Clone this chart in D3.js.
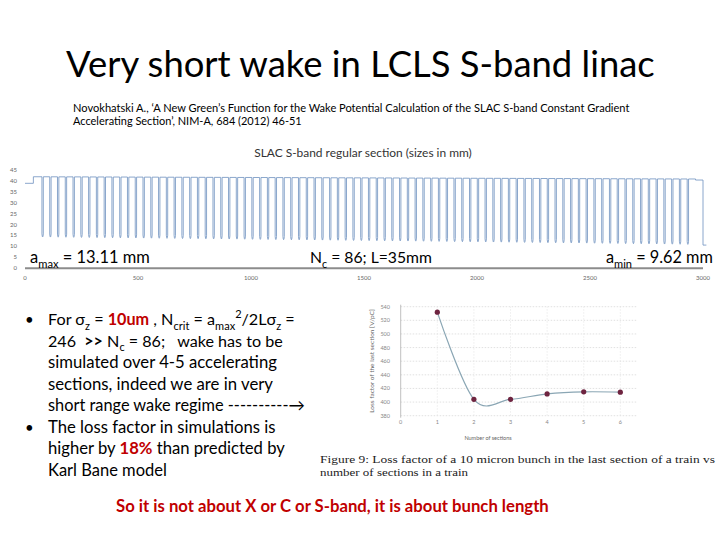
<!DOCTYPE html>
<html>
<head>
<meta charset="utf-8">
<script src="https://cdn.jsdelivr.net/npm/d3@7"></script>
<style>
  body { margin: 0; background: #fff; }
  text { font-family: Lato, "Open Sans", sans-serif; white-space: pre; }
  text.serif { font-family: "Liberation Serif", "DejaVu Serif", serif; }
</style>
</head>
<body>
<div id="slide"></div>
<script>
// ---- data ----
// top chart: iris radius (dips) and cavity radius (flat tops), mm
const irisRadius = [
  14.30, 14.27, 14.22, 14.19, 14.15, 14.11, 14.08, 14.03, 14.00, 13.96,
  13.92, 13.88, 13.85, 13.80, 13.77, 13.73, 13.69, 13.65, 13.61, 13.57,
  13.53, 13.49, 13.45, 13.41, 13.37, 13.33, 13.29, 13.25, 13.21, 13.17,
  13.13, 13.09, 13.05, 13.01, 12.97, 12.93, 12.89, 12.85, 12.81, 12.77,
  12.73, 12.69, 12.65, 12.61, 12.57, 12.53, 12.49, 12.45, 12.41, 12.37,
  12.33, 12.29, 12.25, 12.20, 12.16, 12.12, 12.08, 12.04, 12.00, 11.96,
  11.92, 11.88, 11.84, 11.80, 11.76, 11.71, 11.67, 11.63, 11.59, 11.55,
  11.51, 11.46, 11.42, 11.38, 11.34, 11.29, 11.25, 11.21, 11.17, 11.12,
  11.08, 11.03, 10.98, 10.93
]
const cavityRadius = [
  41.80, 41.79, 41.78, 41.76, 41.75, 41.74, 41.73, 41.71, 41.70, 41.69,
  41.68, 41.67, 41.65, 41.64, 41.63, 41.62, 41.60, 41.59, 41.58, 41.57,
  41.56, 41.54, 41.53, 41.52, 41.51, 41.49, 41.48, 41.47, 41.46, 41.45,
  41.43, 41.42, 41.41, 41.40, 41.38, 41.37, 41.36, 41.35, 41.33, 41.32,
  41.31, 41.30, 41.29, 41.27, 41.26, 41.25, 41.24, 41.22, 41.21, 41.20,
  41.19, 41.18, 41.16, 41.15, 41.14, 41.13, 41.11, 41.10, 41.09, 41.08,
  41.06, 41.05, 41.04, 41.03, 41.02, 41.00, 40.99, 40.98, 40.97, 40.95,
  40.94, 40.93, 40.92, 40.91, 40.89, 40.88, 40.87, 40.86, 40.84, 40.83,
  40.82, 40.81, 40.80, 40.79
]
const firstIris = 78     // mm, position of first iris
const lastIris = 2933    // mm, position of last iris
const couplerIn = [[0, 38.8], [37, 38.8]]
const couplerOut = [[2967, 40.3], [3000, 40.3], [3000, 10.6], [3015, 10.6]]
const topXTicks = [0, 500, 1000, 1500, 2000, 2500, 3000]
const topYTicks = [0, 5, 10, 15, 20, 25, 30, 35, 40, 45]

// bottom chart: loss factor vs number of sections
const sections = [1, 2, 3, 4, 5, 6]
const lossFactor = [532, 404, 404, 412, 415, 414.5]
const lossXTicks = [0, 1, 2, 3, 4, 5, 6]
const lossYTicks = [380, 400, 420, 440, 460, 480, 500, 520, 540]

const red = '#c00000'

const svg = d3.select('#slide').append('svg')
  .attr('width', 720)
  .attr('height', 540)
svg.append('rect').attr('width', 720).attr('height', 540).attr('fill', '#fff')

// text with sub/superscripts, font size fitted to a target width
function rich(g, x, y, parts, size, opts = {}) {
  const draw = s => {
    const t = g.append('text')
      .attr('x', x).attr('y', y)
      .attr('font-size', s)
      .attr('fill', opts.fill || '#000')
      .attr('font-weight', opts.weight || null)
      .attr('text-anchor', opts.anchor || 'start')
    let shift = 0
    parts.forEach(p => {
      const pp = typeof p === 'string' ? { t: p } : p
      let want = 0
      let fs = s
      if (pp.sub) { want = 0.3 * s; fs = 0.68 * s }
      if (pp.sup) { want = -0.42 * s; fs = 0.68 * s }
      t.append('tspan')
        .attr('dy', want - shift)
        .attr('font-size', fs)
        .attr('fill', pp.fill || null)
        .attr('font-weight', pp.bold ? 'bold' : null)
        .text(pp.t)
      shift = want
    })
    return t
  }
  let t = draw(size)
  if (opts.width) {
    const w = t.node().getBBox().width
    t.remove()
    t = draw(size * opts.width / w)
  }
  return t
}

// ---- slide title and reference ----
rich(svg, 66, 77, ['Very short wake in LCLS S-band linac'], 36, { width: 589 })
rich(svg, 73, 112, ['Novokhatski A., ‘A New Green’s Function for the Wake Potential Calculation of the SLAC S-band Constant Gradient'], 10.5, { width: 557 })
rich(svg, 73, 125, ['Accelerating Section’, NIM-A, 684 (2012) 46-51'], 10.5, { width: 229 })

// ---- top chart: structure profile ----
const profileChart = svg.append('g')
const x = d3.scaleLinear().domain([0, 3000]).range([25, 703])
const y = d3.scaleLinear().domain([0, 45]).range([268.3, 169.75])

rich(profileChart, 363, 157, ['SLAC S-band regular section (sizes in mm)'], 11, { width: 218, anchor: 'middle', fill: '#333' })

const irisAt = d3.scaleLinear().domain([0, irisRadius.length - 1]).range([firstIris, lastIris])
const profile = []
couplerIn.forEach(p => profile.push(p))
profile.push([couplerIn[1][0], cavityRadius[0]])
irisRadius.forEach((a, i) => {
  const c = irisAt(i)
  const bl = cavityRadius[i]
  const br = i + 1 < cavityRadius.length ? cavityRadius[i + 1] : cavityRadius[i]
  profile.push([c - 3, bl], [c - 3, a + 1.4], [c - 1.6, a + 0.3], [c, a],
    [c + 1.6, a + 0.3], [c + 3, a + 1.4], [c + 3, br])
})
profile.push([couplerOut[0][0], cavityRadius[cavityRadius.length - 1]])
couplerOut.forEach(p => profile.push(p))

profileChart.append('path')
  .datum(profile)
  .attr('fill', 'none')
  .attr('stroke', '#6d90bf')
  .attr('stroke-width', 0.8)
  .attr('d', d3.line().x(d => x(d[0])).y(d => y(d[1])))

profileChart.append('line')
  .attr('x1', x(0)).attr('x2', x(3000))
  .attr('y1', y(0)).attr('y2', y(0))
  .attr('stroke', '#8c8c8c').attr('stroke-width', 2)

profileChart.selectAll('.xt').data(topXTicks).enter().append('text')
  .attr('x', d => x(d)).attr('y', 280)
  .attr('text-anchor', 'middle')
  .attr('font-size', 6).attr('fill', '#666')
  .text(d => d)
profileChart.selectAll('.yt').data(topYTicks).enter().append('text')
  .attr('x', 17).attr('y', d => y(d) + 2)
  .attr('text-anchor', 'end')
  .attr('font-size', 6).attr('fill', '#666')
  .text(d => d)

rich(profileChart, 30, 263, ['a', { t: 'max', sub: true }, ' = 13.11 mm'], 15, { width: 120 })
rich(profileChart, 310, 263, ['N', { t: 'c', sub: true }, ' = 86; L=35mm'], 15, { width: 122 })
rich(profileChart, 606, 263, ['a', { t: 'min', sub: true }, ' = 9.62 mm'], 15, { width: 107 })

// ---- bullets ----
const bl = svg.append('g')
const lineY = d3.scaleLinear().domain([0, 7]).range([325, 476])
const lines = [
  { parts: ['For σ', { t: 'z', sub: true }, ' = ', { t: '10um', bold: true, fill: red }, ' , N', { t: 'crit', sub: true },
    ' = a', { t: 'max', sub: true }, { t: '2', sup: true }, '/2Lσ', { t: 'z', sub: true }, ' ='], w: 247, bullet: true },
  { parts: ['246  ', { t: '>>', bold: true }, ' N', { t: 'c', sub: true }, ' = 86;   wake has to be'], w: 235 },
  { parts: ['simulated over 4-5 accelerating'], w: 229 },
  { parts: ['sections, indeed we are in very'], w: 225 },
  { parts: ['short range wake regime ----------→'], w: 257 },
  { parts: ['The loss factor in simulations is'], w: 228, bullet: true },
  { parts: ['higher by ', { t: '18%', bold: true, fill: red }, ' than predicted by'], w: 237 },
  { parts: ['Karl Bane model'], w: 119 }
]
lines.forEach((l, i) => {
  if (l.bullet) {
    bl.append('text').attr('x', 25).attr('y', lineY(i)).attr('font-size', 15).text('•')
  }
  rich(bl, 48, lineY(i), l.parts, 15.5, { width: l.w })
})

// ---- bottom chart: loss factor ----
const lf = svg.append('g')
const lx = d3.scaleLinear().domain([0, 6.45]).range([400.7, 636.8])
const ly = d3.scaleLinear().domain([380, 540]).range([415.7, 306.7])

lf.selectAll('.hg').data(lossYTicks).enter().append('line')
  .attr('x1', lx(0)).attr('x2', lx(6.45))
  .attr('y1', d => ly(d)).attr('y2', d => ly(d))
  .attr('stroke', '#d4d4d4').attr('stroke-width', 0.7)
  .attr('stroke-dasharray', '1.5,1.5')
lf.selectAll('.vg').data(lossXTicks.slice(1)).enter().append('line')
  .attr('x1', d => lx(d)).attr('x2', d => lx(d))
  .attr('y1', ly(380)).attr('y2', ly(540))
  .attr('stroke', '#e2e2e2').attr('stroke-width', 0.6)
  .attr('stroke-dasharray', '1.5,1.5')
lf.append('line')
  .attr('x1', lx(0)).attr('x2', lx(0))
  .attr('y1', ly(380) + 2).attr('y2', ly(540) - 2)
  .attr('stroke', '#b0b0b0').attr('stroke-width', 0.8)

lf.selectAll('.lxt').data(lossXTicks).enter().append('text')
  .attr('x', d => lx(d)).attr('y', 424)
  .attr('text-anchor', 'middle')
  .attr('font-size', 5.5).attr('fill', '#888')
  .text(d => d)
lf.selectAll('.lyt').data(lossYTicks).enter().append('text')
  .attr('x', 390).attr('y', d => ly(d) + 2)
  .attr('text-anchor', 'end')
  .attr('font-size', 5.5).attr('fill', '#888')
  .text(d => d)

lf.append('text')
  .attr('transform', `translate(${374},${361}) rotate(-90)`)
  .attr('text-anchor', 'middle')
  .attr('font-size', 6.5).attr('fill', '#666')
  .text('Loss factor of the last section [V/pC]')
lf.append('text')
  .attr('x', 488).attr('y', 440)
  .attr('text-anchor', 'middle')
  .attr('font-size', 5.5).attr('fill', '#666')
  .text('Number of sections')

const pts = sections.map((s, i) => [s, lossFactor[i]])
lf.append('path')
  .datum(pts)
  .attr('fill', 'none')
  .attr('stroke', '#8aa6b4')
  .attr('stroke-width', 1.2)
  .attr('d', d3.line().x(d => lx(d[0])).y(d => ly(d[1])).curve(d3.curveCardinal.tension(0)))
lf.selectAll('.pt').data(pts).enter().append('circle')
  .attr('cx', d => lx(d[0])).attr('cy', d => ly(d[1]))
  .attr('r', 2.6)
  .attr('fill', '#6e2440')

// caption (LaTeX style)
const cap = svg.append('g')
cap.append('text').attr('class', 'serif').attr('x', 320).attr('y', 463)
  .attr('font-size', 11).attr('fill', '#222')
  .attr('textLength', 395).attr('lengthAdjust', 'spacingAndGlyphs')
  .text('Figure 9: Loss factor of a 10 micron bunch in the last section of a train vs')
cap.append('text').attr('class', 'serif').attr('x', 320).attr('y', 476)
  .attr('font-size', 11).attr('fill', '#222')
  .attr('textLength', 148).attr('lengthAdjust', 'spacingAndGlyphs')
  .text('number of sections in a train')

// bottom line
rich(svg, 116, 512, ['So it is not about X or C or S-band, it is about bunch length'], 14, { width: 433, fill: red, weight: 'bold' })
</script>
</body>
</html>
